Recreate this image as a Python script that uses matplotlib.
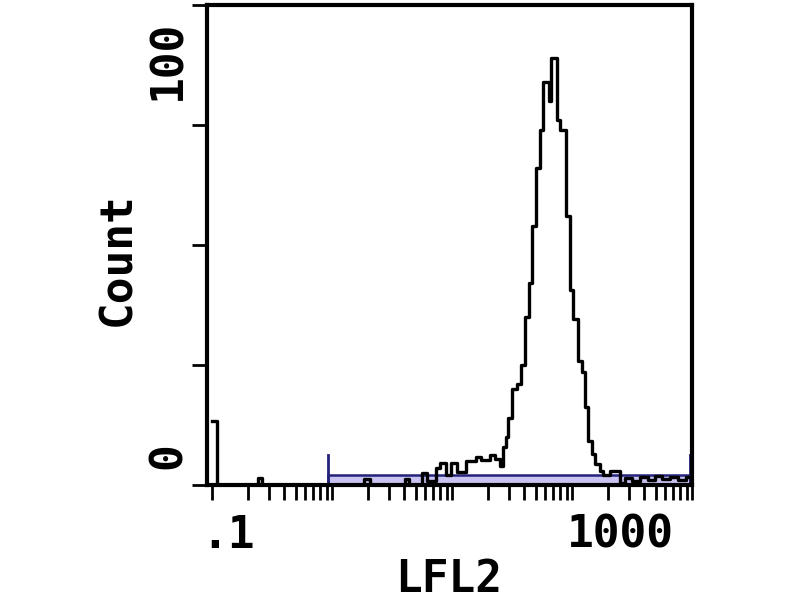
import matplotlib
matplotlib.use("Agg")
import matplotlib.pyplot as plt
from matplotlib.ticker import LogLocator, NullFormatter
from matplotlib.patches import Rectangle

# histogram channels (LFL2 bin edges) and counts
lfl2_edges = [0.1, 0.110, 0.242, 0.261, 1.85, 2.07, 4.06, 4.38, 5.62, 6.19,
              7.36, 7.94, 8.91, 9.81, 11.01, 13.08, 15.85, 17.45, 20.74, 22.83,
              25.12, 26.61, 28.18, 29.29, 31.62, 34.81, 37.58, 40.58, 43.82, 46.42,
              50.12, 54.12, 57.33, 64.33, 66.83, 74.99, 79.43, 89.13, 96.23, 101.9,
              112.2, 121.2, 128.3, 136.0, 146.8, 155.5, 171.1, 181.3, 207.4, 251.2,
              276.6, 316.2, 368.7, 430.0, 491.7, 562.3, 655.9, 764.6, 891.3, 1000]
counts = [13.3, 0, 1.5, 0, 1.2, 0, 1.2, 0, 2.5, 0.8,
          3.5, 4.5, 2.0, 4.5, 2.7, 5.0, 5.8, 5.2, 6.2, 5.5,
          4.0, 8.0, 10.0, 14.0, 20.0, 21.0, 25.0, 35.0, 42.0, 54.0,
          66.0, 74.0, 84.0, 80.0, 89.0, 76.0, 74.0, 56.0, 40.7, 34.5,
          25.8, 23.5, 16.2, 9.1, 6.4, 4.4, 2.9, 2.0, 2.9, 0.5,
          1.5, 0.8, 1.6, 1.0, 1.8, 1.2, 1.7, 1.0, 1.6]

# marker gate
marker_range = [0.926, 960]
marker_height = 2.0
marker_tick = 6.2

y_ticks = [0, 25, 50, 75, 100]

fig = plt.figure(figsize=(8, 6), dpi=100)
ax = fig.add_axes([207 / 800, 115 / 600, 485 / 800, 480 / 600])

ax.set_xscale("log")
ax.set_xlim(0.0908, 1000)
ax.set_ylim(0, 100)

# marker bar
ax.add_patch(Rectangle((marker_range[0], 0), marker_range[1] - marker_range[0], marker_height,
                       facecolor="#c9c3f2", edgecolor="#23237a", linewidth=1.8, zorder=2))
for xm in marker_range:
    ax.plot([xm, xm], [0, marker_tick], color="#23237a", linewidth=2, zorder=2)

ax.step(lfl2_edges, counts + [counts[-1]], where="post", color="black",
        linewidth=2.4, zorder=3)

for s in ax.spines.values():
    s.set_linewidth(3)
ax.xaxis.set_major_locator(LogLocator(base=10, numticks=10))
ax.xaxis.set_minor_locator(LogLocator(base=10, subs=range(2, 10), numticks=50))
ax.xaxis.set_major_formatter(NullFormatter())
ax.xaxis.set_minor_formatter(NullFormatter())
ax.set_yticks(y_ticks)
ax.set_yticklabels([])
ax.tick_params(axis="both", which="both", direction="out", length=11, width=2)

font = dict(family="DejaVu Sans Mono", fontweight="bold", fontsize=32)
fig.text(228 / 800, 1 - 535 / 600, ".1", ha="center", va="center", **font)
fig.text(620 / 800, 1 - 535 / 600, "1000", ha="center", va="center", **font)
fig.text(449 / 800, 1 - 580 / 600, "LFL2", ha="center", va="center", **font)
fig.text(168 / 800, 1 - 60 / 600, "100", ha="center", va="center", rotation=90, **font)
fig.text(168 / 800, 1 - 456 / 600, "0", ha="center", va="center", rotation=90, **font)
fig.text(118 / 800, 1 - 259 / 600, "Count", ha="center", va="center", rotation=90, **font)

fig.savefig("out.png", dpi=100, facecolor="white")
